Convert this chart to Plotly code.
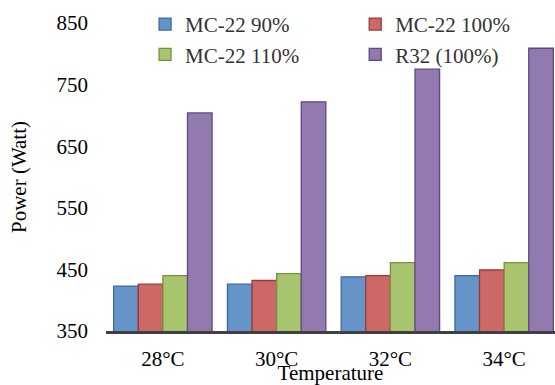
import plotly.graph_objects as go

categories = ["28°C", "30°C", "32°C", "34°C"]
series_names = ["MC-22 90%", "MC-22 100%", "MC-22 110%", "R32 (100%)"]
mc22_90 = [423, 426, 438, 440]
mc22_100 = [426, 432, 440, 449]
mc22_110 = [440, 443, 461, 461]
r32_100 = [704, 722, 775, 809]
y_ticks = [350, 450, 550, 650, 750, 850]

fills = ["#6594C9", "#CC6966", "#A8C46F", "#927AB0"]
borders = ["#3D6A9E", "#9B3B38", "#77933C", "#5F4A7F"]
legend_ids = ["legend", "legend2", "legend", "legend2"]

FONT = "Liberation Serif"

fig = go.Figure()
for name, vals, fc, bc, lg in zip(series_names, [mc22_90, mc22_100, mc22_110, r32_100], fills, borders, legend_ids):
    fig.add_trace(go.Bar(
        x=categories, y=vals, name=name, legend=lg,
        marker=dict(color=fc, line=dict(color=bc, width=1.3)),
    ))

legend_common = dict(
    orientation="v", yanchor="top", y=1.062, xanchor="left",
    font=dict(family=FONT, size=21, color="#333333"),
    bgcolor="rgba(0,0,0,0)", borderwidth=0, tracegroupgap=0,
)

fig.update_layout(
    width=555, height=385,
    margin=dict(l=106, r=0, t=23, b=54, autoexpand=False),
    paper_bgcolor="white", plot_bgcolor="white",
    barmode="group", bargap=0.135, bargroupgap=0,
    font=dict(family=FONT, size=21, color="black"),
    legend=dict(x=0.087, **legend_common),
    legend2=dict(x=0.555, **legend_common),
    xaxis=dict(
        type="category", range=[-0.5, 3.447], automargin=False,
        showline=True, linecolor="#404040", linewidth=3,
        showgrid=False, ticks="", ticklabelstandoff=7,
        tickfont=dict(family=FONT, size=21, color="black"),
        title=dict(text="Temperature", font=dict(family=FONT, size=21, color="black"), standoff=6),
    ),
    yaxis=dict(
        range=[350, 850], tickvals=y_ticks, ticktext=[str(v) for v in y_ticks],
        automargin=False,
        showline=False, showgrid=False, zeroline=False, ticks="",
        ticklabelstandoff=17,
        tickfont=dict(family=FONT, size=21, color="black"),
        title=dict(text="Power (Watt)", font=dict(family=FONT, size=21, color="black"), standoff=24),
    ),
)

fig.write_html("out.html")
